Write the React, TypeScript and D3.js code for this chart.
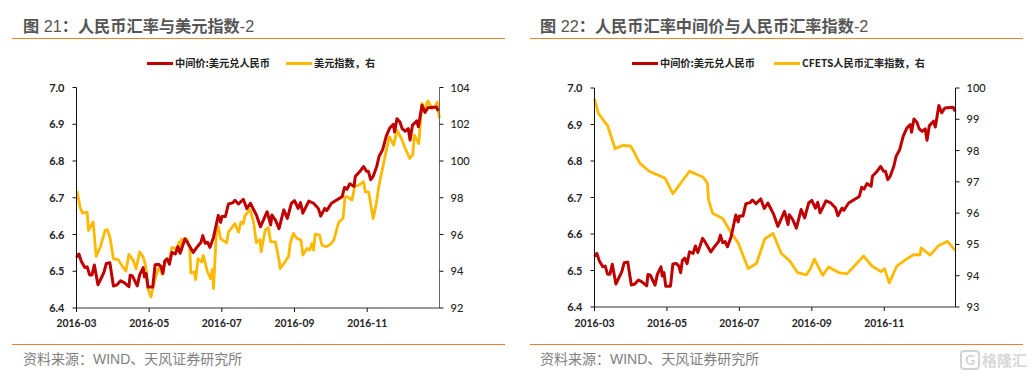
import React from "react";
import * as d3 from "d3";

const monthDays = [0, 61, 122, 183, 244];
const monthLabels = ["2016-03", "2016-05", "2016-07", "2016-09", "2016-11"];
const fixTicks = [6.4, 6.5, 6.6, 6.7, 6.8, 6.9, 7.0];
const dxyTicks = [92, 94, 96, 98, 100, 102, 104];
const cfetsTicks = [93, 94, 95, 96, 97, 98, 99, 100];

const fixDays = [0,2,4,7,9,11,13,15,18,21,23,25,28,31,34,37,40,44,45,47,51,53,56,57,58.5,60,64,66,69,71,72.5,74,76,78,80,83,85,87,91,93,98,100.5,104.5,106,108,110,112,115,119,121,122,125,127.5,131,133,136,140,143,146,151,154.4,160,163,164,167,170,174,177,180.4,183,186,188,190,195,199,203,205,208.4,210,214,223,225,227,229.4,233,234,238,241,243.4,245,247,249,252,254,257,260,263,266,267,269,271.5,273.4,276,278.5,280,282,285.5,287,290,292.5,295,302,303.7];
const fixValues = [6.538,6.547,6.527,6.51,6.512,6.49,6.49,6.517,6.463,6.483,6.497,6.521,6.523,6.46,6.463,6.474,6.469,6.458,6.489,6.487,6.46,6.49,6.51,6.485,6.494,6.457,6.457,6.518,6.519,6.512,6.494,6.527,6.534,6.519,6.551,6.547,6.567,6.549,6.588,6.579,6.551,6.563,6.579,6.597,6.576,6.579,6.565,6.592,6.652,6.633,6.649,6.649,6.683,6.686,6.693,6.683,6.696,6.67,6.685,6.653,6.621,6.662,6.626,6.653,6.639,6.616,6.667,6.644,6.685,6.692,6.671,6.687,6.658,6.691,6.685,6.671,6.65,6.671,6.665,6.685,6.703,6.728,6.723,6.738,6.731,6.758,6.772,6.785,6.772,6.772,6.749,6.758,6.785,6.813,6.831,6.868,6.89,6.9,6.879,6.915,6.906,6.888,6.881,6.888,6.857,6.897,6.909,6.893,6.952,6.932,6.945,6.947,6.936];

const dxyDays = [0.5,3,5,9,10,14,16.5,20,24,26,28,31,35,38,41.5,44,47.6,50,53,56,58,60,62.5,65,67,69.5,72,75,78.4,80,82.6,85,86,87.7,88,92.4,95,96,99,100,102,105,106.4,110,112.6,114,115,117.6,119,121,126,127.5,133,136,138,140,141.5,145.7,148.6,151,154,155,158.4,161,163,167,170,171,175,178,179.4,182,185,188.4,190,193.4,195.7,197.6,199,200.4,204,206,209.7,213,216,219,220.3,223.7,225.4,227.6,231.2,233.5,237,241,242.4,245.2,249,251.7,253.7,259.2,262.6,266.2,269,273.3,276,279.7,282.2,283.6,287.3,290,292,295,298.5,301.3,302.7,304.6];
const dxyValues = [98.36,97.49,97.17,97.22,96.22,96.68,94.81,95.32,96.22,96.26,95.86,94.68,94.63,94.32,94.01,94.92,94.59,94.14,95.05,94.77,94.32,93.05,92.6,93.32,93.83,94.23,93.83,94.63,94.68,95.28,95.26,95.14,95.59,95.14,95.72,95.77,95.32,93.9,93.96,93.54,94.68,94.5,94.86,93.96,93.6,94.09,93.05,96.32,96.44,95.77,95.54,96.13,96.59,96.13,96.68,96.59,97.04,97.35,96.69,95.55,95.73,95.06,96.24,96.37,95.6,95.6,94.6,94.15,94.5,94.8,95.51,96.06,95.79,95.7,94.88,95.24,95.15,95.51,95.15,96.02,95.97,95.42,95.33,95.46,95.7,96.42,96.69,96.87,98.05,98.05,97.87,98.6,98.69,98.87,98.32,98.32,96.87,97.69,98.6,100.32,101.32,100.86,101.68,101.13,100.68,100.14,100.32,101.41,100.95,103.13,102.77,103.27,102.86,102.95,103.22,102.31];

const cfetsDays = [0,3.4,11,17.4,24,30.5,33,38,46,59.4,66,80,91.6,95,96,99.4,108,115.4,121,129.4,136.4,143.4,150.4,157.2,164.4,171,178.5,181.8,185.2,192.2,197.2,205.6,212.6,226.6,233.6,241.2,244.3,248.2,254.6,263,268.6,274.2,275,282.6,289.7,297.2,303.7];
const cfetsValues = [99.65,99.18,98.8,98.06,98.17,98.14,97.98,97.6,97.34,97.12,96.62,97.34,97.15,96.96,96.43,96.0,95.83,95.35,95.05,94.23,94.39,95.18,95.35,94.72,94.47,94.1,94.03,94.22,94.53,94.01,94.28,94.1,94.06,94.63,94.31,94.13,94.22,93.77,94.31,94.54,94.67,94.67,94.89,94.66,94.96,95.1,94.81];

const RED = "#c00000";
const GOLD = "#ffb900";
const CJK = "'Noto Sans CJK SC', sans-serif";
const MIXED = "'Liberation Sans', 'Noto Sans CJK SC', sans-serif";
const NUM = "Lato, 'Noto Sans', sans-serif";

type PanelProps = {
  x0: number; x1: number; yTop: number; yBot: number; maxDay: number;
  ruleL: number; ruleR: number; titleX: number; figNo: string; titleBody: string; srcX: number;
  rightTicks: number[]; rightDomain: [number, number]; rightAxisColor: string;
  rightDays: number[]; rightValues: number[];
  leg: { r0: number; r1: number; rt: number; y0: number; y1: number; yt: number; second: string };
};

function Panel(p: PanelProps) {
  const x = d3.scaleLinear().domain([0, p.maxDay]).range([p.x0, p.x1]);
  const yL = d3.scaleLinear().domain([6.4, 7.0]).range([p.yBot, p.yTop]);
  const yR = d3.scaleLinear().domain(p.rightDomain).range([p.yBot, p.yTop]);
  const redLine = d3.line<number>().x((d) => x(d)).y((_, i) => yL(fixValues[i]));
  const goldLine = d3.line<number>().x((d) => x(d)).y((_, i) => yR(p.rightValues[i]));
  return (
    <g>
      <text x={p.titleX} y={32} fontFamily={MIXED} fontSize={16.2} fill="#555555">
        <tspan fontFamily={CJK} fontWeight={700}>图</tspan>
        <tspan> {p.figNo}</tspan>
        <tspan fontFamily={CJK} fontWeight={700}>：{p.titleBody}</tspan>
        <tspan>-2</tspan>
      </text>
      <line x1={p.ruleL} x2={p.ruleR} y1={38.5} y2={38.5} stroke="#f58220" strokeWidth={1} />
      <line x1={p.ruleL} x2={p.ruleR} y1={344.5} y2={344.5} stroke="#ed7d31" strokeWidth={1} />
      <text x={p.srcX} y={364} fontFamily={MIXED} fontSize={14} fill="#7f7f7f">资料来源：WIND、天风证券研究所</text>

      <line x1={p.leg.r0} x2={p.leg.r1} y1={63.5} y2={63.5} stroke={RED} strokeWidth={3} />
      <text x={p.leg.rt} y={67} fontFamily={CJK} fontWeight={700} fontSize={10.2} fill="#222">中间价:美元兑人民币</text>
      <line x1={p.leg.y0} x2={p.leg.y1} y1={63.5} y2={63.5} stroke={GOLD} strokeWidth={3} />
      <text x={p.leg.yt} y={67} fontFamily={CJK} fontWeight={700} fontSize={10.2} fill="#222">{p.leg.second}</text>

      <path d={goldLine(p.rightDays) ?? ""} fill="none" stroke={GOLD} strokeWidth={2.8} strokeLinejoin="round" />
      <path d={redLine(fixDays) ?? ""} fill="none" stroke={RED} strokeWidth={3} strokeLinejoin="round" />

      <line x1={p.x0} x2={p.x0} y1={p.yTop} y2={p.yBot} stroke="#111" strokeWidth={1} />
      <line x1={p.x1} x2={p.x1} y1={p.yTop} y2={p.yBot} stroke={p.rightAxisColor} strokeWidth={1} />
      <line x1={p.x0} x2={p.x1} y1={p.yBot} y2={p.yBot} stroke="#333" strokeWidth={1} />

      {fixTicks.map((t) => (
        <g key={t}>
          <line x1={p.x0 - 4} x2={p.x0} y1={yL(t)} y2={yL(t)} stroke="#111" />
          <text x={p.x0 - 12} y={yL(t) + 4} textAnchor="end" fontFamily={NUM} fontWeight={700} fontSize={11} fill="#222">{t.toFixed(1)}</text>
        </g>
      ))}
      {p.rightTicks.map((t) => (
        <g key={t}>
          <line x1={p.x1} x2={p.x1 + 4} y1={yR(t)} y2={yR(t)} stroke="#111" />
          <text x={p.x1 + 11} y={yR(t) + 4} fontFamily={NUM} fontWeight={500} fontSize={11} fill="#222">{t}</text>
        </g>
      ))}
      {monthDays.map((d, i) => (
        <g key={d}>
          <line x1={x(d)} x2={x(d)} y1={p.yBot} y2={p.yBot + 4} stroke="#111" />
          <text x={x(d)} y={327} textAnchor="middle" fontFamily={NUM} fontWeight={700} fontSize={10.4} fill="#222">{monthLabels[i]}</text>
        </g>
      ))}
    </g>
  );
}

export default function App() {
  return (
    <svg width={1034} height={377} style={{ position: "absolute", left: 0, top: 0, background: "#fff" }}>
      <Panel x0={76.5} x1={439.5} yTop={87.5} yBot={308} maxDay={304.7} ruleL={12} ruleR={505}
        titleX={23} figNo="21" titleBody="人民币汇率与美元指数" srcX={23}
        rightTicks={dxyTicks} rightDomain={[92, 104]} rightAxisColor="#666666"
        rightDays={dxyDays} rightValues={dxyValues}
        leg={{ r0: 147, r1: 173, rt: 175, y0: 286, y1: 312, yt: 314, second: "美元指数，右" }} />
      <Panel x0={594.5} x1={955.5} yTop={88} yBot={307} maxDay={304} ruleL={530} ruleR={1023}
        titleX={540} figNo="22" titleBody="人民币汇率中间价与人民币汇率指数" srcX={540}
        rightTicks={cfetsTicks} rightDomain={[93, 100]} rightAxisColor="#111"
        rightDays={cfetsDays} rightValues={cfetsValues}
        leg={{ r0: 632, r1: 658, rt: 660, y0: 774, y1: 800, yt: 802, second: "CFETS人民币汇率指数，右" }} />
      <g opacity={0.9}>
        <rect x={961} y={351} width={18} height={18} rx={3} fill="none" stroke="#cfcfcf" strokeWidth={2} />
        <text x={970} y={365} textAnchor="middle" fontFamily={NUM} fontWeight={700} fontSize={14} fill="#cfcfcf">G</text>
        <text x={982} y={366} fontFamily={CJK} fontWeight={700} fontSize={15} fill="#d4d4d4">格隆汇</text>
      </g>
    </svg>
  );
}
